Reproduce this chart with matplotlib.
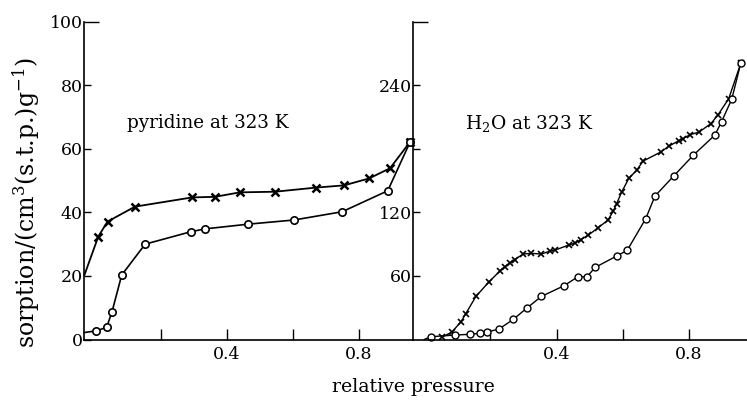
import matplotlib
matplotlib.use('Agg')
import matplotlib.pyplot as plt

plt.rcParams['font.family'] = ['DejaVu Serif']
plt.rcParams['mathtext.fontset'] = 'dejavuserif'

# pyridine at 323 K (left panel), first point is where the curve meets the axis
pyr_des_x = [-0.032, 0.010, 0.038, 0.121, 0.294, 0.364, 0.439, 0.545, 0.670, 0.755, 0.831, 0.894, 0.955]
pyr_des_y = [20.3, 32.4, 37.1, 41.8, 44.7, 44.9, 46.3, 46.5, 47.8, 48.5, 50.7, 53.9, 62.2]
pyr_ads_x = [-0.032, 0.003, 0.035, 0.051, 0.081, 0.152, 0.290, 0.333, 0.465, 0.603, 0.749, 0.887, 0.955]
pyr_ads_y = [2.2, 2.7, 3.8, 8.5, 20.3, 30.0, 33.9, 34.8, 36.3, 37.6, 40.2, 46.8, 62.2]

# H2O at 323 K (right panel)
h2o_des_x = [0.053, 0.084, 0.111, 0.125, 0.156, 0.195, 0.230, 0.244, 0.260, 0.274, 0.299, 0.324,
             0.354, 0.380, 0.395, 0.437, 0.455, 0.473, 0.496, 0.526, 0.555, 0.571, 0.581, 0.596,
             0.618, 0.642, 0.661, 0.714, 0.739, 0.769, 0.782, 0.803, 0.830, 0.866, 0.887, 0.920, 0.956]
h2o_des_y = [2.1, 7.1, 16.8, 24.1, 40.6, 54.2, 65.1, 68.7, 72.6, 75.5, 80.7, 81.3,
             80.7, 83.5, 84.4, 89.2, 91.0, 94.3, 98.6, 105.7, 112.7, 121.2, 128.1, 138.9,
             152.1, 159.9, 168.4, 176.9, 182.5, 187.7, 189.6, 193.4, 195.8, 203.8, 211.8, 227.5, 260.6]
h2o_ads_x = [0.0, 0.019, 0.093, 0.138, 0.168, 0.191, 0.226, 0.269, 0.309, 0.354, 0.422, 0.463,
             0.492, 0.516, 0.583, 0.613, 0.669, 0.697, 0.755, 0.813, 0.878, 0.898, 0.929, 0.956]
h2o_ads_y = [0.0, 2.6, 4.2, 4.9, 5.8, 7.1, 9.9, 19.0, 29.4, 40.7, 50.7, 59.0,
             59.3, 68.0, 79.1, 84.1, 114.0, 135.4, 154.8, 174.0, 193.0, 205.5, 226.9, 260.6]

x_ticks = [0.2, 0.4, 0.6, 0.8]
x_labels = ['', '0.4', '', '0.8']
left_yticks = [0, 20, 40, 60, 80, 100]
left_ylabels = ['0', '20', '40', '60', '80', '100']
right_yticks = [60, 120, 180, 240, 300]
right_ylabels = ['60', '120', '', '240', '']

W, H = 747, 401
fig = plt.figure(figsize=(W / 100, H / 100), dpi=100)
ax1 = fig.add_axes([84.3 / W, 61.5 / H, 329 / W, 317.8 / H])
ax2 = fig.add_axes([413.3 / W, 61.5 / H, 333.7 / W, 317.8 / H])

# left panel
ax1.plot(pyr_des_x, pyr_des_y, color='black', lw=1.3, marker='x', ms=6, mew=1.8,
         markevery=list(range(1, len(pyr_des_x))), clip_on=False)
ax1.plot(pyr_ads_x, pyr_ads_y, color='black', lw=1.2, marker='o', ms=5.3, mew=1.2,
         mfc='white', markevery=list(range(1, len(pyr_ads_x))), clip_on=False)
ax1.set_xlim(-0.0324, 0.9645)
ax1.set_ylim(0, 100)
ax1.set_yticks(left_yticks)
ax1.set_yticklabels(left_ylabels)
ax1.text(0.097, 68, 'pyridine at 323 K', fontsize=13.2, va='center', ha='left')

# right panel
ax2.plot(h2o_des_x, h2o_des_y, color='black', lw=1.0, marker='x', ms=5, mew=1.2, clip_on=False)
ax2.plot(h2o_ads_x, h2o_ads_y, color='black', lw=1.0, marker='o', ms=5, mew=1.0,
         mfc='white', markevery=list(range(1, len(h2o_ads_x))), clip_on=False)
ax2.set_xlim(-0.033, 0.975)
ax2.set_ylim(0, 300)
ax2.set_yticks(right_yticks)
ax2.set_yticklabels(right_ylabels)
ax2.text(0.123, 204, 'H$_2$O at 323 K', fontsize=13.4, va='center', ha='left')

for ax in (ax1, ax2):
    ax.set_facecolor('none')
    for s in ('top', 'right'):
        ax.spines[s].set_visible(False)
    for s in ('left', 'bottom'):
        ax.spines[s].set_linewidth(1.2)
    ax.set_xticks(x_ticks)
    ax.set_xticklabels(x_labels)
    ax.tick_params(axis='x', direction='in', length=8, width=1.0, pad=5, labelsize=12.5)
    ax.tick_params(axis='y', direction='in', length=5, width=1.0, pad=1, labelsize=12.5)
    # longer cap at the top of each y axis
    ax.yaxis.get_major_ticks()[-1].tick1line.set_markersize(11)

fig.text(413 / W, 1 - 387 / H, 'relative pressure', fontsize=13.6, ha='center', va='center')
fig.text(26 / W, 1 - 203 / H, r'sorption/(cm$^3$(s.t.p.)g$^{-1}$)', fontsize=17,
         rotation=90, ha='center', va='center')

fig.savefig('out.png', dpi=100)
